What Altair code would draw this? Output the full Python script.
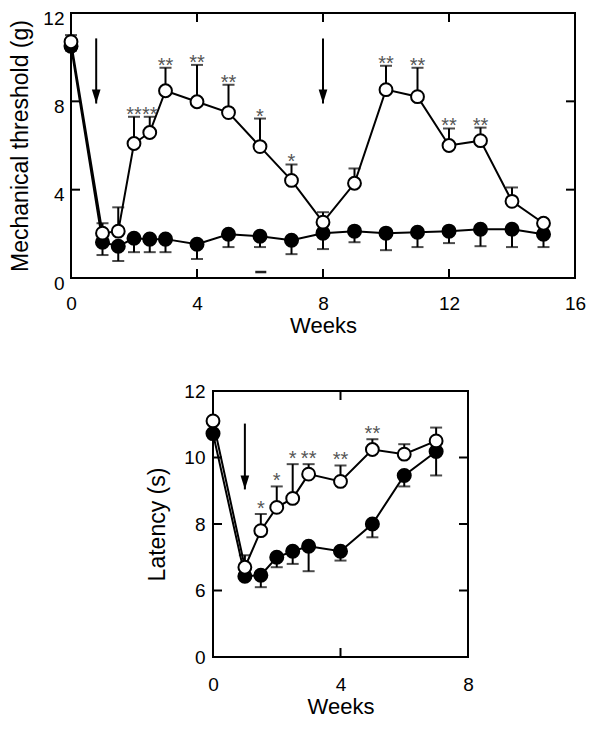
import altair as alt
import pandas as pd

# ---------------- data: top panel (mechanical threshold) ----------------
top_weeks = [0, 1, 1.5, 2, 2.5, 3, 4, 5, 6, 7, 8, 9, 10, 11, 12, 13, 14, 15]
top_open = [10.7, 2.03, 2.12, 6.09, 6.59, 8.48, 7.98, 7.49, 5.95, 4.42, 2.53, 4.29, 8.53, 8.21, 6.0, 6.22, 3.47, 2.48]
top_open_err = [11.0, 2.48, 3.2, 7.3, 7.3, 9.52, 9.65, 8.75, 7.22, 5.14, 2.98, 4.96, 9.61, 9.52, 6.77, 6.81, 4.1, 2.48]
top_filled = [10.5, 1.62, 1.44, 1.8, 1.76, 1.76, 1.53, 1.98, 1.89, 1.71, 2.03, 2.12, 2.03, 2.07, 2.12, 2.21, 2.21, 1.98]
top_filled_err = [10.3, 1.04, 0.77, 1.17, 1.17, 1.17, 0.86, 1.4, 1.4, 1.08, 1.31, 1.62, 1.26, 1.4, 1.58, 1.44, 1.4, 1.4]
top_stars = ["", "", "", "**", "**", "**", "**", "**", "*", "*", "", "", "**", "**", "**", "**", "", ""]
top_arrow_x = [0.8, 8.0]
top_arrow_start = [10.85, 10.85]
top_arrow_tip = [7.9, 7.9]
top_dash_x = [5.85]
top_dash_x2 = [6.2]
top_dash_y = [0.27]
top_xlabels = [0, 4, 8, 12, 16]
top_ylabels = [0, 4, 8, 12]
top_xticks_bottom = [4, 8, 12]
top_xticks_top = [4, 8, 12]
top_yticks_left = [4, 8]
top_yticks_right = [4, 8]

# ---------------- data: bottom panel (latency) ----------------
bot_weeks = [0, 1, 1.5, 2, 2.5, 3, 4, 5, 6, 7]
bot_open = [11.1, 6.7, 7.8, 8.5, 8.77, 9.5, 9.28, 10.24, 10.1, 10.5]
bot_open_err = [11.1, 7.06, 8.3, 9.13, 9.8, 9.8, 9.76, 10.55, 10.4, 10.9]
bot_filled = [10.72, 6.43, 6.46, 7.0, 7.18, 7.33, 7.18, 8.0, 9.46, 10.18]
bot_filled_err = [10.72, 6.43, 6.1, 6.7, 6.8, 6.58, 6.9, 7.6, 9.13, 9.46]
bot_stars = ["", "", "*", "*", "*", "**", "**", "**", "", ""]
bot_arrow_x = [1.0]
bot_arrow_start = [11.02]
bot_arrow_tip = [9.04]
bot_xlabels = [0, 4, 8]
bot_ylabels = [0, 6, 8, 10, 12]
bot_xticks_bottom = [4]
bot_xticks_top = [4]
bot_yticks_left = [6, 8, 10]
bot_yticks_right = [6, 8, 10]

FONT = "Liberation Sans"
TICK = 9
ARROW_HEAD = "M -0.62 -2 L 0.62 -2 L 0 0 Z"


def panel(weeks, op, op_err, fi, fi_err, stars, ax, ay1, ay2,
          xlabels, ylabels, xt_b, xt_t, yt_l, yt_r,
          W, H, xs, ys, ytitle, x_lpad, y_lpad, y_tpad, y_loff, star_dy,
          dash=None):
    xaxis = alt.Axis(values=xlabels, ticks=False, domain=False, grid=False, title="Weeks",
                     labelPadding=x_lpad, titlePadding=2, labelFlush=False, titleFontSize=22)
    yaxis = alt.Axis(values=ylabels, ticks=False, domain=False, grid=False, title=ytitle,
                     labelPadding=y_lpad, titlePadding=y_tpad, labelOffset=y_loff,
                     titleFontSize=23)

    def X(f):
        return alt.X(f, scale=xs, axis=xaxis)

    def Y(f):
        return alt.Y(f, scale=ys, axis=yaxis)

    df = pd.DataFrame({"week": weeks, "open": op, "open_err": op_err,
                       "filled": fi, "filled_err": fi_err, "stars": stars})
    base = alt.Chart(df)
    f_rule = base.mark_rule(color="black", strokeWidth=2).encode(x=X("week:Q"), y=Y("filled:Q"), y2="filled_err:Q")
    f_cap = base.mark_tick(orient="horizontal", color="black", size=12, thickness=2).encode(
        x=X("week:Q"), y=Y("filled_err:Q"))
    o_rule = base.mark_rule(color="black", strokeWidth=2).encode(x=X("week:Q"), y=Y("open:Q"), y2="open_err:Q")
    o_cap = base.mark_tick(orient="horizontal", color="black", size=12, thickness=2).encode(
        x=X("week:Q"), y=Y("open_err:Q"))
    f_line = base.mark_line(color="black", strokeWidth=2).encode(x=X("week:Q"), y=Y("filled:Q"))
    o_line = base.mark_line(color="black", strokeWidth=2).encode(x=X("week:Q"), y=Y("open:Q"))
    f_pts = base.mark_point(shape="circle", filled=True, fill="black", stroke="black",
                            size=170, opacity=1).encode(x=X("week:Q"), y=Y("filled:Q"))
    o_pts = base.mark_point(shape="circle", filled=True, fill="white", stroke="black",
                            strokeWidth=2, size=165, opacity=1).encode(x=X("week:Q"), y=Y("open:Q"))
    st = base.transform_filter("datum.stars != ''").mark_text(
        font=FONT, fontSize=20, color="#555555", baseline="alphabetic", dy=star_dy
    ).encode(x=X("week:Q"), y=Y("open_err:Q"), text="stars:N")

    adf = pd.DataFrame({"x": ax, "y1": ay1, "y2": ay2})
    a_line = alt.Chart(adf).mark_rule(color="black", strokeWidth=2).encode(
        x=X("x:Q"), y=Y("y1:Q"), y2="y2:Q")
    a_head = alt.Chart(adf).mark_point(shape=ARROW_HEAD, filled=True, color="black",
                                       size=196, opacity=1).encode(x=X("x:Q"), y=Y("y2:Q"))

    def xticks(vals, top):
        d = pd.DataFrame({"v": vals})
        return alt.Chart(d).mark_rule(color="black", strokeWidth=2).encode(
            x=X("v:Q"), y=alt.value(0 if top else H), y2=alt.value(TICK if top else H - TICK))

    def yticks(vals, right):
        d = pd.DataFrame({"v": vals})
        return alt.Chart(d).mark_rule(color="black", strokeWidth=2).encode(
            y=Y("v:Q"), x=alt.value(W if right else 0), x2=alt.value(W - TICK if right else TICK))

    layers = [xticks(xt_b, False), xticks(xt_t, True), yticks(yt_l, False),
              yticks(yt_r, True), f_rule, f_cap, o_rule, o_cap, f_line, o_line,
              a_line, a_head, f_pts, o_pts, st]
    if dash is not None:
        ddf = pd.DataFrame({"x": dash[0], "x2": dash[1], "y": dash[2]})
        layers.append(alt.Chart(ddf).mark_rule(color="#222222", strokeWidth=2.5).encode(
            x=X("x:Q"), x2="x2:Q", y=Y("y:Q")))
    return alt.layer(*layers).properties(width=W, height=H)


TW, TH = 504, 265
top = panel(top_weeks, top_open, top_open_err, top_filled, top_filled_err, top_stars,
            top_arrow_x, top_arrow_start, top_arrow_tip,
            top_xlabels, top_ylabels, top_xticks_bottom, top_xticks_top,
            top_yticks_left, top_yticks_right, TW, TH,
            alt.Scale(domain=[0, 16], nice=False, zero=False),
            alt.Scale(domain=[0, 12], nice=False, zero=False),
            "Mechanical threshold (g)", 16, 7, 10, 5, 4,
            dash=(top_dash_x, top_dash_x2, top_dash_y))

BW, BH = 255, 266
bottom = panel(bot_weeks, bot_open, bot_open_err, bot_filled, bot_filled_err, bot_stars,
               bot_arrow_x, bot_arrow_start, bot_arrow_tip,
               bot_xlabels, bot_ylabels, bot_xticks_bottom, bot_xticks_top,
               bot_yticks_left, bot_yticks_right, BW, BH,
               alt.Scale(domain=[0, 8], nice=False, zero=False),
               alt.Scale(domain=[0, 6, 12], range=[BH, BH * 0.75, 0], nice=False, zero=False),
               "Latency (s)", 18, 8, 14, 0, 1)

spacer = alt.Chart(pd.DataFrame({"s": [0]})).mark_point(opacity=0).encode(
    x=alt.value(0), y=alt.value(0)
).properties(width=73, height=10, view=alt.ViewBackground(stroke="transparent"))

chart = alt.vconcat(
    top, alt.hconcat(spacer, bottom, spacing=0), spacing=44
).properties(
    padding=0, background="white"
).configure_view(
    stroke="black", strokeWidth=2
).configure_axis(
    labelFont=FONT, titleFont=FONT, labelFontSize=19, titleFontSize=22,
    titleFontWeight="normal", labelColor="black", titleColor="black"
)

chart.save("out.html", embed_options={"renderer": "svg", "actions": False})
